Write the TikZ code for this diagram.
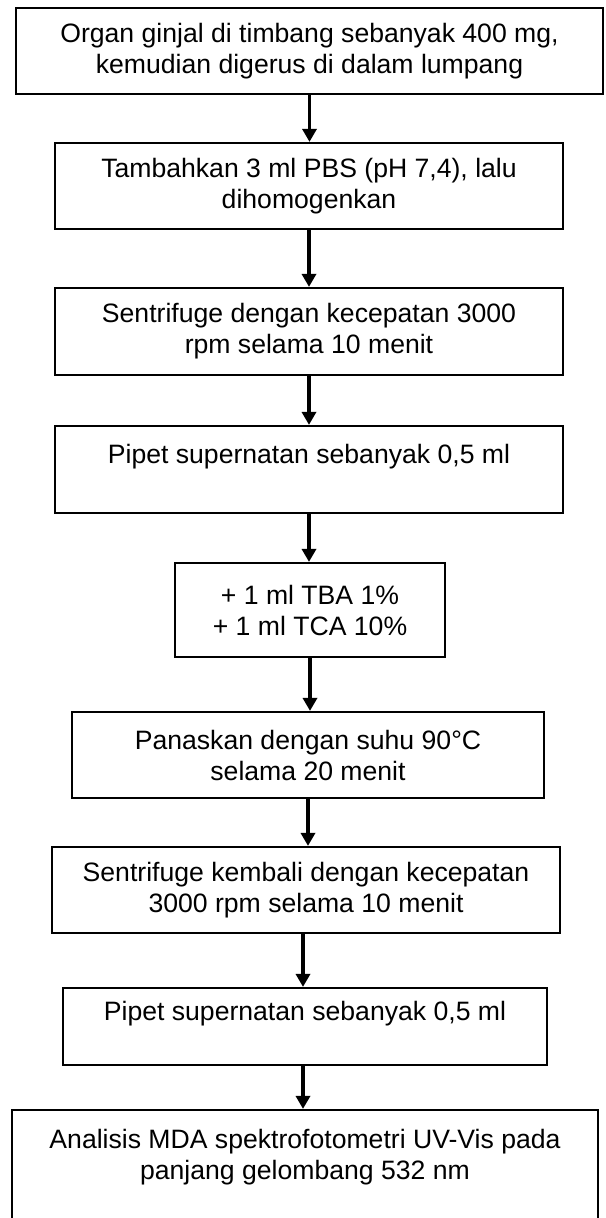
\documentclass[tikz,border=0pt]{standalone}
\usepackage{fontspec}
\setmainfont{Liberation Sans}
\usetikzlibrary{arrows.meta}
\tikzset{%
    proc/.style={%
        draw, align = center, line width=2.2pt, fill = white,
        minimum height=86pt, inner sep=0pt,
        font=\fontsize{26.6pt}{31pt}\selectfont
    }
}
\tikzset{%
    panah/.style={%
        ->, >={Triangle[length=13pt,width=14pt]}, line width=3.5pt
    }
}

\begin{document}
\begin{tikzpicture}[x=1pt,y=-1pt]
  \path[use as bounding box, clip] (0,0) rectangle (605,1218);

  % langkah 1 - 4
  \node[proc, minimum width=587pt] (ORG) at (309.5,51) {Organ ginjal di timbang sebanyak 400 mg,\\ kemudian digerus di dalam lumpang};
  \node[proc, minimum width=508pt] (PBS) at (309,186) {Tambahkan 3 ml PBS (pH 7,4), lalu\\ dihomogenkan};
  \node[proc, minimum width=508pt, minimum height=87pt] (SF1) at (309,331.5) {Sentrifuge dengan kecepatan 3000\\ rpm selama 10 menit};
  \node[proc, minimum width=508pt, minimum height=87pt] (PIP1) at (309,469.5) {Pipet supernatan sebanyak 0,5 ml\\ \mbox{}};

  % langkah 5 - 8
  \node[proc, minimum width=270pt, minimum height=94pt] (TBA) at (310,610) {+ 1 ml TBA 1\%\\ + 1 ml TCA 10\%};
  \node[proc, minimum width=472pt] (PAN) at (308,755) {Panaskan dengan suhu 90\textdegree C\\ selama 20 menit};
  \node[proc, minimum width=508pt] (SF2) at (306,890) {Sentrifuge kembali dengan kecepatan\\ 3000 rpm selama 10 menit};
  \node[proc, minimum width=484pt, minimum height=77pt] (PIP2) at (305,1026.5) {Pipet supernatan sebanyak 0,5 ml\\ \mbox{}};

  % langkah akhir
  \node[proc, minimum width=586pt, minimum height=120pt] (MDA) at (305,1170) {Analisis MDA spektrofotometri UV-Vis pada\\ panjang gelombang 532 nm\\ \mbox{}};

  %
  \draw[panah] (ORG.south) -- (ORG.south |- PBS.north);
  \draw[panah] (PBS.south) -- (PBS.south |- SF1.north);
  \draw[panah] (SF1.south) -- (SF1.south |- PIP1.north);
  \draw[panah] (PIP1.south) -- (PIP1.south |- TBA.north);
  \draw[panah] (TBA.south) -- (TBA.south |- PAN.north);
  \draw[panah] (PAN.south) -- (PAN.south |- SF2.north);
  \draw[panah] ([xshift=-3pt]SF2.south) -- ([xshift=-3pt]SF2.south |- PIP2.north);
  \draw[panah] ([xshift=-2pt]PIP2.south) -- ([xshift=-2pt]PIP2.south |- MDA.north);
\end{tikzpicture}
\end{document}
